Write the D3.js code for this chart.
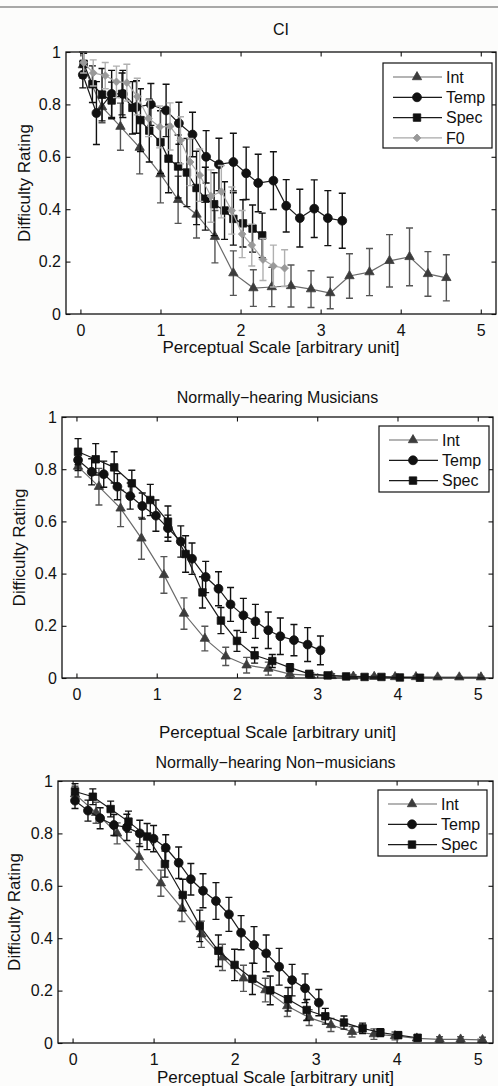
<!DOCTYPE html>
<html>
<head>
<meta charset="utf-8">
<script src="https://cdn.jsdelivr.net/npm/d3@7"></script>
<style>
  body { margin: 0; background: #fcfcfb; }
  svg { display: block; font-family: "Liberation Sans", Arial, Helvetica, sans-serif; }
</style>
</head>
<body>
<div id="chart"></div>
<script>
// each point: [perceptual scale, mean difficulty rating, error]
const ciInt = [
  [0.03, 0.95, 0.05], [0.27, 0.79, 0.06], [0.50, 0.715, 0.09], [0.74, 0.635, 0.10],
  [1.00, 0.534, 0.11], [1.22, 0.436, 0.09], [1.45, 0.38, 0.09], [1.68, 0.295, 0.10],
  [1.91, 0.156, 0.085], [2.16, 0.099, 0.07], [2.39, 0.103, 0.075], [2.63, 0.107, 0.08],
  [2.88, 0.095, 0.07], [3.12, 0.08, 0.06], [3.36, 0.145, 0.085], [3.61, 0.16, 0.09],
  [3.86, 0.203, 0.10], [4.11, 0.218, 0.11], [4.34, 0.153, 0.085], [4.57, 0.138, 0.088]
];
const ciTemp = [
  [0.03, 0.913, 0.05], [0.20, 0.767, 0.12], [0.39, 0.84, 0.09], [0.53, 0.84, 0.09],
  [0.70, 0.79, 0.10], [0.88, 0.80, 0.08], [1.07, 0.777, 0.10], [1.23, 0.728, 0.08],
  [1.40, 0.685, 0.085], [1.57, 0.60, 0.10], [1.73, 0.571, 0.10], [1.91, 0.58, 0.11],
  [2.07, 0.537, 0.10], [2.22, 0.50, 0.11], [2.41, 0.509, 0.11], [2.57, 0.413, 0.10],
  [2.74, 0.366, 0.11], [2.92, 0.402, 0.11], [3.09, 0.366, 0.105], [3.27, 0.356, 0.105]
];
const ciSpec = [
  [0.04, 0.955, 0.04], [0.15, 0.877, 0.07], [0.27, 0.837, 0.10], [0.39, 0.815, 0.07],
  [0.52, 0.84, 0.08], [0.65, 0.787, 0.10], [0.75, 0.74, 0.12], [0.86, 0.70, 0.12],
  [1.00, 0.656, 0.12], [1.10, 0.593, 0.13], [1.22, 0.563, 0.12], [1.33, 0.54, 0.13],
  [1.45, 0.481, 0.14], [1.56, 0.44, 0.12], [1.67, 0.419, 0.12], [1.80, 0.395, 0.11],
  [1.91, 0.363, 0.10], [2.03, 0.346, 0.09], [2.15, 0.326, 0.09], [2.27, 0.30, 0.085]
];
const ciF0 = [
  [0.04, 0.96, 0.04], [0.16, 0.92, 0.05], [0.31, 0.91, 0.05], [0.45, 0.886, 0.06],
  [0.58, 0.883, 0.07], [0.71, 0.83, 0.07], [0.85, 0.747, 0.07], [0.99, 0.714, 0.08],
  [1.12, 0.716, 0.09], [1.25, 0.663, 0.09], [1.37, 0.58, 0.09], [1.49, 0.53, 0.10],
  [1.63, 0.45, 0.10], [1.76, 0.467, 0.10], [1.89, 0.395, 0.09], [2.02, 0.305, 0.09],
  [2.14, 0.263, 0.08], [2.28, 0.208, 0.08], [2.41, 0.183, 0.08], [2.55, 0.175, 0.07]
];

const musInt = [
  [0.02, 0.81, 0.04], [0.28, 0.733, 0.07], [0.55, 0.65, 0.07], [0.81, 0.535, 0.08],
  [1.09, 0.395, 0.07], [1.34, 0.247, 0.06], [1.60, 0.151, 0.047], [1.86, 0.083, 0.035],
  [2.12, 0.049, 0.03], [2.39, 0.036, 0.025], [2.66, 0.015, 0.015], [2.92, 0.01, 0.01],
  [3.18, 0.008, 0.008], [3.45, 0.006, 0.006], [3.71, 0.005, 0.005], [3.97, 0.004, 0.004],
  [4.23, 0.004, 0.004], [4.50, 0.003, 0.003], [4.77, 0.003, 0.003], [5.04, 0.003, 0.003]
];
const musTemp = [
  [0.02, 0.835, 0.04], [0.19, 0.79, 0.05], [0.34, 0.781, 0.05], [0.51, 0.733, 0.05],
  [0.67, 0.697, 0.05], [0.82, 0.659, 0.05], [0.99, 0.622, 0.06], [1.14, 0.574, 0.05],
  [1.30, 0.523, 0.06], [1.44, 0.457, 0.06], [1.61, 0.387, 0.06], [1.77, 0.342, 0.065],
  [1.92, 0.282, 0.065], [2.08, 0.24, 0.065], [2.23, 0.217, 0.065], [2.39, 0.183, 0.07],
  [2.54, 0.16, 0.07], [2.71, 0.145, 0.06], [2.88, 0.128, 0.065], [3.04, 0.106, 0.055]
];
const musSpec = [
  [0.02, 0.867, 0.05], [0.24, 0.838, 0.06], [0.47, 0.807, 0.06], [0.69, 0.746, 0.05],
  [0.92, 0.682, 0.06], [1.14, 0.599, 0.06], [1.36, 0.475, 0.07], [1.57, 0.328, 0.06],
  [1.80, 0.22, 0.05], [2.00, 0.142, 0.04], [2.22, 0.087, 0.03], [2.44, 0.065, 0.025],
  [2.66, 0.04, 0.015], [2.90, 0.016, 0.01], [3.13, 0.01, 0.007], [3.36, 0.006, 0.005],
  [3.59, 0.004, 0.004], [3.80, 0.004, 0.003], [4.03, 0.002, 0.002], [4.28, 0.001, 0.002]
];

const nonInt = [
  [0.03, 0.95, 0.03], [0.29, 0.879, 0.04], [0.55, 0.80, 0.04], [0.82, 0.711, 0.05],
  [1.09, 0.61, 0.05], [1.35, 0.514, 0.05], [1.59, 0.415, 0.05], [1.85, 0.327, 0.05],
  [2.11, 0.247, 0.05], [2.38, 0.202, 0.045], [2.65, 0.141, 0.04], [2.92, 0.097, 0.03],
  [3.19, 0.069, 0.025], [3.45, 0.043, 0.02], [3.72, 0.034, 0.02], [3.98, 0.027, 0.015],
  [4.25, 0.018, 0.012], [4.53, 0.014, 0.01], [4.79, 0.014, 0.01], [5.06, 0.012, 0.01]
];
const nonTemp = [
  [0.03, 0.925, 0.03], [0.19, 0.887, 0.04], [0.34, 0.858, 0.04], [0.51, 0.832, 0.04],
  [0.67, 0.823, 0.05], [0.83, 0.80, 0.05], [1.00, 0.78, 0.05], [1.15, 0.745, 0.05],
  [1.31, 0.688, 0.06], [1.46, 0.625, 0.06], [1.61, 0.581, 0.065], [1.77, 0.542, 0.07],
  [1.93, 0.491, 0.065], [2.08, 0.421, 0.065], [2.24, 0.374, 0.07], [2.39, 0.342, 0.07],
  [2.55, 0.291, 0.07], [2.71, 0.24, 0.06], [2.87, 0.209, 0.055], [3.04, 0.154, 0.05]
];
const nonSpec = [
  [0.03, 0.96, 0.03], [0.25, 0.94, 0.03], [0.47, 0.893, 0.03], [0.69, 0.845, 0.04],
  [0.92, 0.788, 0.05], [1.14, 0.683, 0.05], [1.36, 0.565, 0.06], [1.57, 0.447, 0.06],
  [1.80, 0.352, 0.06], [2.00, 0.298, 0.06], [2.22, 0.245, 0.06], [2.44, 0.201, 0.055],
  [2.66, 0.167, 0.045], [2.89, 0.126, 0.04], [3.12, 0.102, 0.03], [3.35, 0.078, 0.025],
  [3.58, 0.056, 0.02], [3.80, 0.04, 0.015], [4.02, 0.03, 0.012], [4.26, 0.02, 0.01]
];

const xTicks = [0, 1, 2, 3, 4, 5];
const yTicks = [0, 0.2, 0.4, 0.6, 0.8, 1];
const titles = ['CI', 'Normally\u2212hearing Musicians', 'Normally\u2212hearing Non\u2212musicians'];
const xLabel = 'Perceptual Scale [arbitrary unit]';
const yLabel = 'Difficulty Rating';

const W = 498, H = 1086;
const xDomain = [-0.18, 5.19];
const fontSize = '16px';
const labelSize = '17px';

const style = {
  Int:  {symbol: d3.symbolTriangle, size: 38, mark: '#3c3c3c', line: '#6a6a6a', err: '#555'},
  Temp: {symbol: d3.symbolCircle,   size: 62, mark: '#111',    line: '#1a1a1a', err: '#111'},
  Spec: {symbol: d3.symbolSquare,   size: 56, mark: '#111',    line: '#1a1a1a', err: '#111'},
  F0:   {symbol: d3.symbolSquare,   size: 30, mark: '#999',    line: '#a8a8a8', err: '#b0b0b0', rotate: 45}
};

const panels = [
  {title: titles[0], box: [66, 52, 496, 314], titleY: 35, xLabY: 353, yLabX: 24,
   legend: [383, 63, 109, 85], series: [['Int', ciInt], ['Temp', ciTemp], ['Spec', ciSpec], ['F0', ciF0]]},
  {title: titles[1], box: [62, 417, 493, 678], titleY: 403, xLabY: 738, yLabX: 19,
   legend: [379, 426, 110, 66], series: [['Int', musInt], ['Temp', musTemp], ['Spec', musSpec]]},
  {title: titles[2], box: [58, 781, 493, 1043], titleY: 768, xLabY: 1083, yLabX: 14,
   legend: [378, 790, 109, 66], series: [['Int', nonInt], ['Temp', nonTemp], ['Spec', nonSpec]]}
];

const svg = d3.select('#chart').append('svg')
  .attr('width', W)
  .attr('height', H);

// page rule of the scanned page
svg.append('line')
  .attr('x1', 0).attr('x2', W).attr('y1', 7).attr('y2', 7)
  .attr('stroke', '#555').attr('stroke-width', 1.2);

const marker = (name) => {
  const s = style[name];
  return d3.symbol().type(s.symbol).size(s.size)();
};

const drawSeries = (g, name, data, x, y) => {
  const s = style[name];
  const cap = 3.5;
  const bars = g.append('g')
    .attr('stroke', s.err)
    .attr('stroke-width', 1.4)
    .attr('fill', 'none');
  bars.selectAll('path')
    .data(data)
    .join('path')
      .attr('d', ([px, m, e]) => {
        const cx = x(px), y1 = y(m - e), y2 = y(m + e);
        return `M${cx},${y1}V${y2}M${cx - cap},${y1}H${cx + cap}M${cx - cap},${y2}H${cx + cap}`;
      });

  g.append('path')
    .datum(data)
    .attr('fill', 'none')
    .attr('stroke', s.line)
    .attr('stroke-width', 1.2)
    .attr('d', d3.line().x(d => x(d[0])).y(d => y(d[1])));

  g.append('g').selectAll('path')
    .data(data)
    .join('path')
      .attr('transform', d => `translate(${x(d[0])},${y(d[1])})${s.rotate ? ` rotate(${s.rotate})` : ''}`)
      .attr('d', marker(name))
      .attr('fill', s.mark)
      .attr('stroke', s.mark)
      .attr('stroke-width', 0.8);
};

const drawPanel = (p) => {
  const [left, top, right, bottom] = p.box;
  const x = d3.scaleLinear().domain(xDomain).range([left, right]);
  const y = d3.scaleLinear().domain([0, 1]).range([bottom, top]);
  const g = svg.append('g');

  g.append('rect')
    .attr('x', left).attr('y', top)
    .attr('width', right - left).attr('height', bottom - top)
    .attr('fill', '#fff');

  // inward ticks on all four sides, labels on bottom and left only
  const tick = 4.5;
  const axes = [
    [d3.axisBottom(x).tickValues(xTicks).tickFormat(d3.format('d')).tickPadding(11), `translate(0,${bottom})`],
    [d3.axisTop(x).tickValues(xTicks).tickFormat(''), `translate(0,${top})`],
    [d3.axisLeft(y).tickValues(yTicks).tickFormat(d => d === 0 || d === 1 ? d : d3.format('.1f')(d)).tickPadding(5), `translate(${left},0)`],
    [d3.axisRight(y).tickValues(yTicks).tickFormat(''), `translate(${right},0)`]
  ];
  axes.forEach(([axis, tr]) => {
    const a = g.append('g')
      .attr('transform', tr)
      .call(axis.tickSizeInner(-tick).tickSizeOuter(0));
    a.select('.domain').remove();
    a.selectAll('line').attr('stroke', '#111').attr('stroke-width', 1.1);
    a.selectAll('text')
      .attr('fill', '#111')
      .style('font-size', fontSize)
      .style('font-family', '"Liberation Sans", Arial, sans-serif');
  });

  p.series.forEach(([name, data]) => drawSeries(g, name, data, x, y));

  g.append('rect')
    .attr('x', left).attr('y', top)
    .attr('width', right - left).attr('height', bottom - top)
    .attr('fill', 'none')
    .attr('stroke', '#111')
    .attr('stroke-width', 1.3);

  // legend
  const [lx, ly, lw, lh] = p.legend;
  const leg = g.append('g');
  leg.append('rect')
    .attr('x', lx).attr('y', ly).attr('width', lw).attr('height', lh)
    .attr('fill', '#fff').attr('stroke', '#111').attr('stroke-width', 1.2);
  p.series.forEach(([name], i) => {
    const s = style[name];
    const ey = ly + 14 + i * 20.3;
    leg.append('line')
      .attr('x1', lx + 10).attr('x2', lx + 59)
      .attr('y1', ey).attr('y2', ey)
      .attr('stroke', s.line).attr('stroke-width', 1.2);
    leg.append('path')
      .attr('transform', `translate(${lx + 34},${ey})${s.rotate ? ` rotate(${s.rotate})` : ''}`)
      .attr('d', marker(name))
      .attr('fill', s.mark).attr('stroke', s.mark).attr('stroke-width', 0.8);
    leg.append('text')
      .attr('x', lx + 63).attr('y', ey)
      .attr('dy', '0.36em')
      .style('font-size', fontSize)
      .attr('fill', '#111')
      .text(name);
  });

  g.append('text')
    .attr('x', (left + right) / 2).attr('y', p.titleY)
    .attr('text-anchor', 'middle')
    .style('font-size', fontSize)
    .attr('fill', '#111')
    .text(p.title);

  g.append('text')
    .attr('x', (left + right) / 2).attr('y', p.xLabY)
    .attr('text-anchor', 'middle')
    .style('font-size', labelSize)
    .attr('fill', '#111')
    .text(xLabel);

  g.append('text')
    .attr('transform', `translate(${p.yLabX},${(top + bottom) / 2}) rotate(-90)`)
    .attr('text-anchor', 'middle')
    .attr('dy', '0.36em')
    .style('font-size', labelSize)
    .attr('fill', '#111')
    .text(yLabel);
};

panels.forEach(drawPanel);
</script>
</body>
</html>
